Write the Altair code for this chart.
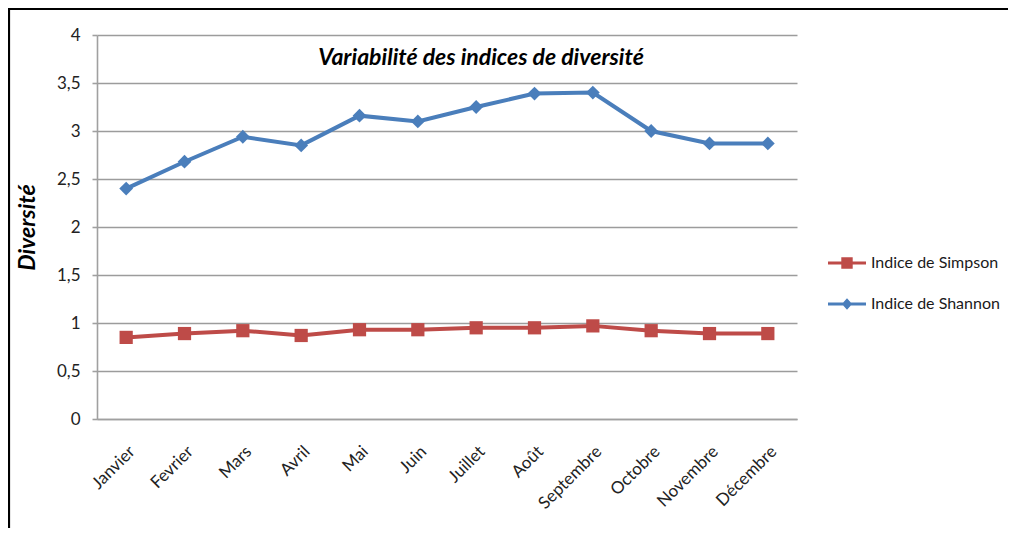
import altair as alt
import pandas as pd

months = ["Janvier", "Fevrier", "Mars", "Avril", "Mai", "Juin", "Juillet",
          "Août", "Septembre", "Octobre", "Novembre", "Décembre"]
shannon = [2.40, 2.68, 2.94, 2.85, 3.16, 3.10, 3.25, 3.39, 3.40, 3.00, 2.87, 2.87]
simpson = [0.85, 0.89, 0.92, 0.87, 0.93, 0.93, 0.95, 0.95, 0.97, 0.92, 0.89, 0.89]
series_names = ["Indice de Simpson", "Indice de Shannon"]
colors = ["#BE4B48", "#4A7EBB"]
y_ticks = [0, 0.5, 1, 1.5, 2, 2.5, 3, 3.5, 4]

rows = []
for m, v in zip(months, simpson):
    rows.append({"mois": m, "valeur": v, "serie": series_names[0]})
for m, v in zip(months, shannon):
    rows.append({"mois": m, "valeur": v, "serie": series_names[1]})
df = pd.DataFrame(rows)

FONT = "Lato"

# legend symbols: line segment + marker
sq_path = ("M-1,-0.08L-0.3,-0.08L-0.3,-0.3L0.3,-0.3L0.3,-0.08L1,-0.08"
           "L1,0.08L0.3,0.08L0.3,0.3L-0.3,0.3L-0.3,0.08L-1,0.08Z")
di_path = ("M-1,-0.08L-0.2,-0.08L0,-0.3L0.2,-0.08L1,-0.08L1,0.08L0.2,0.08"
           "L0,0.3L-0.2,0.08L-1,0.08Z")

x_enc = alt.X("mois:N", sort=months, scale=alt.Scale(domain=months, padding=0.5),
              axis=alt.Axis(title=None, labelAngle=-45, ticks=False, grid=False,
                            domainColor="#a0a0a0", domainWidth=1.6,
                            labelFont=FONT, labelFontSize=17, labelColor="#222",
                            labelAlign="right", labelBaseline="top",
                            labelPadding=24, labelOffset=0))
y_enc = alt.Y("valeur:Q", scale=alt.Scale(domain=[0, 4], nice=False),
              axis=alt.Axis(title="Diversité", values=y_ticks,
                            labelExpr="replace(toString(datum.value), '.', ',')",
                            grid=True, gridColor="#9c9c9c", gridWidth=1.6,
                            domainColor="#a0a0a0", domainWidth=1.6,
                            tickColor="#a0a0a0", tickWidth=1.6, tickSize=5,
                            labelFont=FONT, labelFontSize=17, labelColor="#222",
                            labelPadding=12,
                            titleFont=FONT, titleFontSize=23, titleFontWeight="bold",
                            titleFontStyle="italic", titleColor="#000",
                            titlePadding=17))
color_enc = alt.Color("serie:N", scale=alt.Scale(domain=series_names, range=colors),
                      legend=alt.Legend(title=None))

base = alt.Chart(df)

lines = base.mark_line(strokeWidth=4).encode(x=x_enc, y=y_enc, color=color_enc)

pts_simpson = base.transform_filter(alt.datum.serie == series_names[0]).mark_point(
    shape="square", filled=True, size=175, opacity=1).encode(
    x=x_enc, y=y_enc, color=color_enc)
pts_shannon = base.transform_filter(alt.datum.serie == series_names[1]).mark_point(
    shape="diamond", filled=True, size=190, opacity=1).encode(
    x=x_enc, y=y_enc, color=color_enc)

legend_layer = base.transform_filter("false").mark_point(filled=True).encode(
    x=x_enc, y=y_enc, color=color_enc,
    shape=alt.Shape("serie:N", scale=alt.Scale(domain=series_names,
                                               range=[sq_path, di_path]),
                    legend=alt.Legend(title=None)))

frame = alt.Chart(pd.DataFrame({"k": [0]})).mark_rect(
    filled=False, stroke="#000", strokeWidth=2.2).encode(
    x=alt.value(-88), y=alt.value(-26), x2=alt.value(1100), y2=alt.value(700))

chart = alt.layer(frame, lines, pts_simpson, pts_shannon, legend_layer).properties(
    width=700, height=384,
    autosize=alt.AutoSizeParams(type="none"),
    padding={"left": 89, "top": 27, "right": 211, "bottom": 109},
    title=alt.TitleParams("Variabilité des indices de diversité", font=FONT,
                          fontSize=23, fontWeight="bold", fontStyle="italic",
                          color="#000", anchor="middle", dx=34, offset=-62),
).configure_view(stroke=None).configure_legend(
    orient="none", legendX=731, legendY=209, padding=0, rowPadding=14,
    symbolSize=1444, symbolStrokeWidth=0, labelOffset=5,
    labelFont=FONT, labelFontSize=16, labelColor="#1a1a1a",
)

chart.save("out.html", embed_options={"renderer": "svg", "actions": False})
